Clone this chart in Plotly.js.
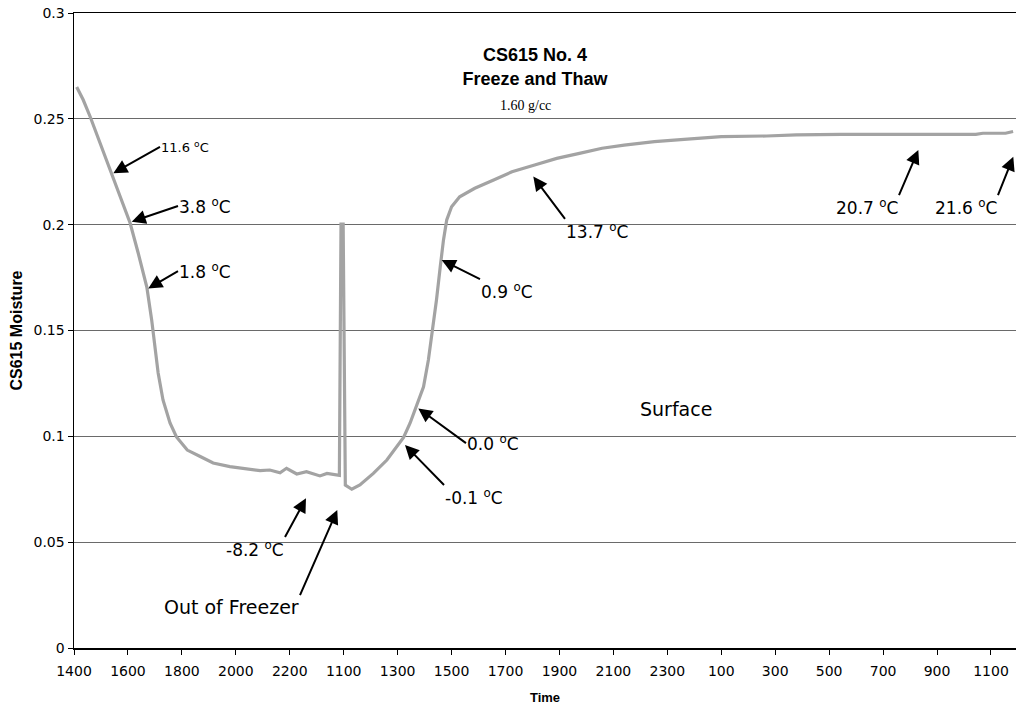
<!DOCTYPE html>
<html>
<head>
<meta charset="utf-8">
<script src="https://cdn.plot.ly/plotly-3.0.1.min.js"></script>
<style>html,body{margin:0;padding:0;background:#fff;}#chart{width:1016px;height:710px;}</style>
</head>
<body>
<div id="chart"></div>
<script>
// Category tick labels of the time axis (one every 200 time units)
const tickPositions = [0,1,2,3,4,5,6,7,8,9,10,11,12,13,14,15,16,17];
const tickLabels = ['1400','1600','1800','2000','2200','1100','1300','1500','1700','1900','2100','2300','100','300','500','700','900','1100'];

// Series: position along the time axis (in tick units) and CS615 moisture
const timeIndex = [0.05,0.17,0.30,0.48,0.70,0.88,1.04,1.19,1.35,1.44,
  1.50,1.56,1.65,1.78,1.90,2.10,2.34,2.58,2.89,3.20,
  3.45,3.63,3.82,3.94,4.13,4.31,4.56,4.69,4.87,4.92,
  4.95,4.99,5.03,5.15,5.30,5.55,5.80,5.98,6.11,6.23,
  6.35,6.48,6.57,6.66,6.72,6.79,6.85,6.91,7.00,7.15,
  7.43,7.78,8.12,8.54,8.95,9.37,9.79,10.20,10.76,11.31,
  12.00,12.84,13.39,14.22,15.61,16.72,16.85,17.27,17.41];
const moisture = [0.265,0.259,0.251,0.2386,0.2244,0.2117,0.2008,0.1866,0.1705,0.155,
  0.1422,0.1299,0.1172,0.1063,0.0997,0.0935,0.0905,0.0874,0.0857,0.0846,
  0.0838,0.0841,0.0828,0.0849,0.0822,0.0833,0.0813,0.0825,0.0816,0.0816,
  0.2003,0.2003,0.0770,0.0750,0.0770,0.0825,0.0888,0.0951,0.0995,0.1062,
  0.1140,0.1234,0.1361,0.1518,0.1644,0.1801,0.1928,0.2022,0.2085,0.2132,
  0.2172,0.2211,0.2250,0.2282,0.2313,0.2337,0.2361,0.2376,0.2392,0.2403,
  0.2416,0.2419,0.2424,0.2427,0.2427,0.2427,0.2432,0.2432,0.2440];

// Temperature labels: text, arrow tip, arrow tail (text is anchored at the tail)
const labelTexts = ['11.6 <sup>o</sup>C','3.8 <sup>o</sup>C','1.8 <sup>o</sup>C','0.0 <sup>o</sup>C','-0.1 <sup>o</sup>C','-8.2 <sup>o</sup>C','Out of Freezer','0.9 <sup>o</sup>C','13.7 <sup>o</sup>C','20.7 <sup>o</sup>C','21.6 <sup>o</sup>C'];
const labelSize = [13,17,17,17,17,17,19,17,17,17,17];
const tipX = [0.729,1.070,1.377,6.383,6.136,4.301,4.881,6.817,8.515,15.653,17.414];
const tipY = [0.2243,0.2014,0.1699,0.1132,0.0959,0.0707,0.0652,0.1833,0.2227,0.2353,0.2321];
const tailX = [1.594,1.928,1.928,7.267,6.860,3.912,4.190,7.527,9.103,15.295,17.130];
const tailY = [0.2367,0.2088,0.1781,0.0968,0.0770,0.0524,0.0250,0.1743,0.2027,0.2140,0.2140];
const labelXAnchor = ['left','left','left','left','left','right','right','left','left','right','right'];
const labelYAnchor = ['middle','middle','middle','middle','top','top','top','top','top','top','top'];

const labelFont = 'DejaVu Sans, Liberation Sans, Arial, sans-serif';
const annotations = [];
for (let k = 0; k < labelTexts.length; k++) {
  annotations.push({x: tipX[k], y: tipY[k], xref: 'x', yref: 'y', ax: tailX[k], ay: tailY[k], axref: 'x', ayref: 'y',
    text: labelTexts[k], xanchor: labelXAnchor[k], yanchor: labelYAnchor[k],
    showarrow: true, arrowhead: 2, arrowsize: 1.4, arrowwidth: 2, arrowcolor: '#000', standoff: 0, startstandoff: 0,
    borderpad: 0, font: {family: labelFont, size: labelSize[k], color: '#000'}});
}
annotations.push({x: 11.161, y: 0.1129, xref: 'x', yref: 'y', text: 'Surface', showarrow: false,
  xanchor: 'center', yanchor: 'middle', font: {family: labelFont, size: 19, color: '#000'}});
annotations.push({x: 0.4798, y: 0.855, xref: 'paper', yref: 'paper', text: '1.60 g/cc', showarrow: false,
  xanchor: 'center', yanchor: 'middle', font: {family: 'Liberation Serif, Times New Roman, serif', size: 14, color: '#000'}});

const trace = {
  x: timeIndex, y: moisture, type: 'scatter', mode: 'lines',
  line: {color: '#a3a3a3', width: 3.2}, hoverinfo: 'skip', showlegend: false
};

const layout = {
  width: 1016, height: 710,
  margin: {l: 74, r: 0, t: 13, b: 62, pad: 0},
  paper_bgcolor: '#fff', plot_bgcolor: '#fff',
  showlegend: false,
  title: {text: '<b>CS615 No. 4</b><br><b>Freeze and Thaw</b>', x: 0.5266, xref: 'container', xanchor: 'center',
    y: 0.9134, yref: 'container', yanchor: 'middle',
    font: {family: 'Liberation Sans, Arial, sans-serif', size: 18, color: '#000'}},
  xaxis: {
    range: [0, 17.464], tickmode: 'array', tickvals: tickPositions, ticktext: tickLabels,
    ticks: 'outside', ticklen: 5, tickwidth: 1, tickcolor: '#000', ticklabelstandoff: 5,
    showline: true, linecolor: '#000', linewidth: 1.5, mirror: true,
    showgrid: false, zeroline: false,
    tickfont: {family: labelFont, size: 14, color: '#000'},
    title: {text: '<b>Time</b>', standoff: 14, font: {family: 'Liberation Sans, Arial, sans-serif', size: 13, color: '#000'}}
  },
  yaxis: {
    range: [0, 0.3], tickmode: 'array', tickvals: [0, 0.05, 0.1, 0.15, 0.2, 0.25, 0.3],
    ticktext: ['0', '0.05', '0.1', '0.15', '0.2', '0.25', '0.3'],
    ticks: 'outside', ticklen: 5, tickwidth: 1, tickcolor: '#000',
    showline: true, linecolor: '#000', linewidth: 1.5,
    showgrid: true, gridcolor: '#6a6a6a', gridwidth: 1, zeroline: false,
    tickfont: {family: labelFont, size: 14, color: '#000'},
    title: {text: '<b>CS615 Moisture</b>', standoff: 7, font: {family: 'Liberation Sans, Arial, sans-serif', size: 16, color: '#000'}}
  },
  annotations: annotations
};

Plotly.newPlot('chart', [trace], layout, {displayModeBar: false, staticPlot: true});
</script>
</body>
</html>
